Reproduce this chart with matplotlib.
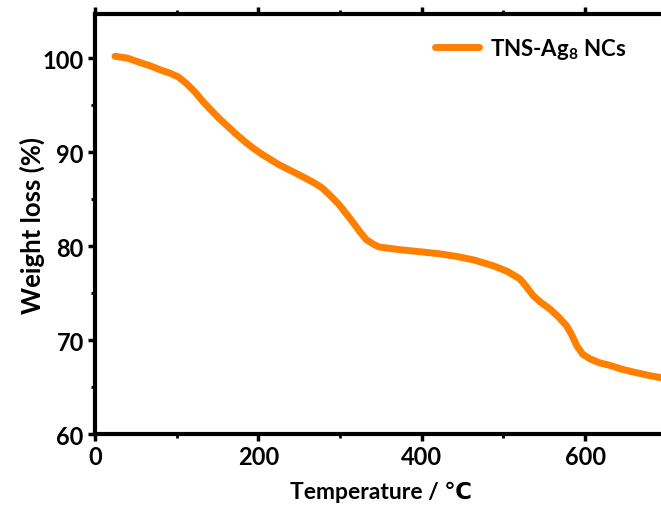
import matplotlib
matplotlib.use("Agg")
import matplotlib.pyplot as plt
from matplotlib.ticker import MultipleLocator

# TGA curve
temperature = [24.5, 40, 53, 67, 81.6, 92, 102, 112, 122.4, 132, 142.8, 153, 163,
               173, 183.7, 194, 204, 215, 226.5, 245, 267, 278, 287.7, 298, 308,
               316, 324.5, 332, 340.8, 348, 357, 375, 398, 420, 442.9, 465, 487.7,
               505, 520.4, 528, 536.7, 546, 557, 567, 577.5, 584, 589.8, 597, 606,
               617, 630.6, 645, 659, 680, 700]
weight = [100.2, 100.0, 99.6, 99.2, 98.7, 98.4, 98.0, 97.3, 96.4, 95.4, 94.4, 93.5, 92.7,
          91.9, 91.1, 90.4, 89.8, 89.2, 88.6, 87.8, 86.8, 86.2, 85.4, 84.5, 83.4,
          82.5, 81.5, 80.7, 80.2, 79.9, 79.8, 79.6, 79.4, 79.2, 78.9, 78.5, 77.9,
          77.3, 76.5, 75.7, 74.7, 74.0, 73.3, 72.5, 71.5, 70.5, 69.4, 68.5, 68.0,
          67.6, 67.3, 66.9, 66.6, 66.2, 65.9]

xticks = [0, 200, 400, 600]
yticks = [60, 70, 80, 90, 100]

plt.rcParams['font.family'] = ['Lato', 'DejaVu Sans']
plt.rcParams['font.weight'] = 'bold'
plt.rcParams['mathtext.fontset'] = 'custom'
plt.rcParams['mathtext.bf'] = 'Lato:bold'
plt.rcParams['mathtext.rm'] = 'Lato:bold'
plt.rcParams['mathtext.default'] = 'bf'

fig = plt.figure(figsize=(6.61, 5.10), dpi=100)
ax = fig.add_axes([0.1437, 0.147, 0.865, 0.8236])

ax.plot(temperature, weight, color='#FF8000', linewidth=5, solid_capstyle='round',
        solid_joinstyle='round', label='TNS-Ag$_{8}$ NCs')

ax.set_xlim(0, 700)
ax.set_ylim(60, 104.7)
ax.set_xticks(xticks)
ax.set_yticks(yticks)
ax.xaxis.set_minor_locator(MultipleLocator(100))
ax.yaxis.set_minor_locator(MultipleLocator(5))

for s in ['left', 'bottom', 'top']:
    ax.spines[s].set_linewidth(3)
ax.spines['right'].set_visible(False)

ax.tick_params(which='major', direction='out', length=5, width=2.5, labelsize=17, pad=3)
ax.tick_params(which='minor', direction='out', length=3, width=2)
ax.tick_params(axis='x', which='both', top=True)
ax.tick_params(axis='x', which='both', labeltop=False)

ax.set_xlabel('Temperature / ℃', fontsize=16.5, fontweight='bold', labelpad=9)
ax.set_ylabel('Weight loss (%)', fontsize=18.5, fontweight='bold', labelpad=-2)

leg = ax.legend(loc='upper right', bbox_to_anchor=(0.965, 0.995), frameon=False,
                fontsize=16, handlelength=2.0, handletextpad=0.5)

fig.savefig('out.png', dpi=100)
